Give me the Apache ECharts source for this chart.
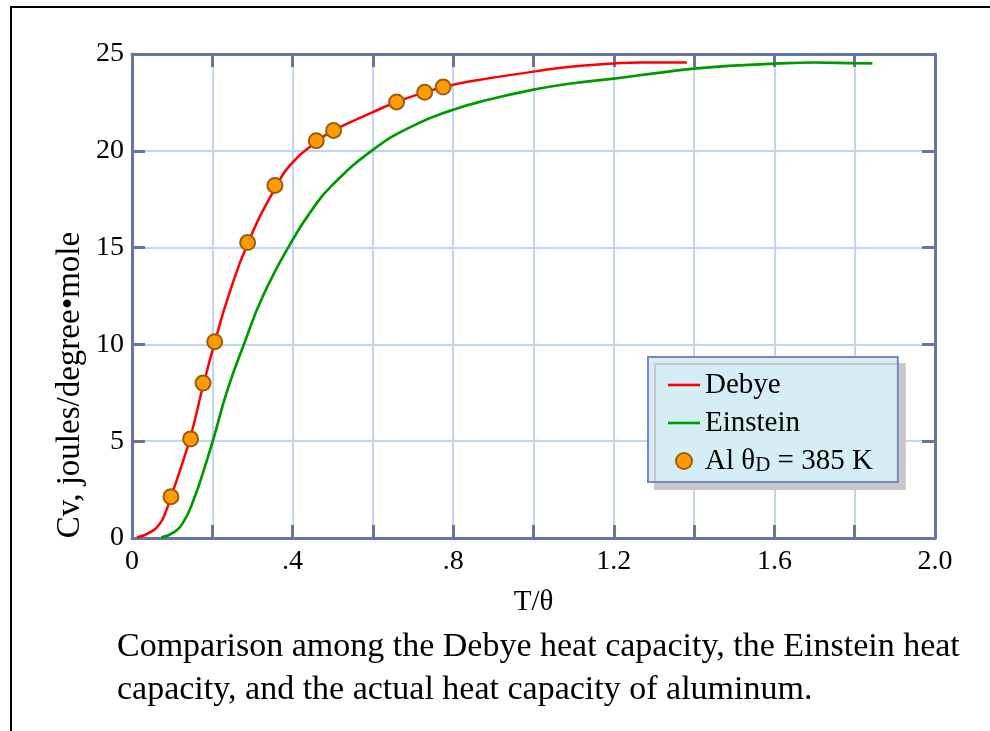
<!DOCTYPE html>
<html>
<head>
<meta charset="utf-8">
<script src="https://cdn.jsdelivr.net/npm/echarts@6/dist/echarts.min.js"></script>
<style>
html,body{margin:0;padding:0;background:#fff;}
#chart{width:990px;height:731px;}
</style>
</head>
<body>
<div id="chart"></div>
<script>
// ---- data ----
const debyeX = [0.012, 0.045, 0.070, 0.085, 0.097, 0.120, 0.146, 0.177, 0.206, 0.241, 0.288, 0.356, 0.400, 0.459, 0.502, 0.600, 0.659, 0.729, 0.775, 0.847, 1.000, 1.098, 1.200, 1.266, 1.382];
const debyeY = [0.03, 0.29, 0.76, 1.40, 2.13, 3.52, 5.25, 7.85, 10.10, 12.54, 15.20, 18.05, 19.40, 20.45, 21.05, 22.00, 22.52, 23.02, 23.29, 23.60, 24.09, 24.36, 24.51, 24.56, 24.56];

const einsteinX = [0.073, 0.104, 0.129, 0.154, 0.179, 0.204, 0.237, 0.278, 0.327, 0.400, 0.450, 0.495, 0.600, 0.701, 0.800, 0.887, 1.000, 1.098, 1.200, 1.306, 1.400, 1.498, 1.600, 1.698, 1.800, 1.844];
const einsteinY = [0.03, 0.29, 0.86, 2.00, 3.52, 5.21, 7.60, 9.96, 12.54, 15.40, 17.00, 18.15, 20.05, 21.30, 22.12, 22.64, 23.16, 23.49, 23.73, 24.01, 24.24, 24.40, 24.50, 24.56, 24.53, 24.52];

const alX = [0.097, 0.146, 0.177, 0.206, 0.288, 0.356, 0.459, 0.502, 0.659, 0.729, 0.775];
const alY = [2.13, 5.12, 8.00, 10.14, 15.26, 18.21, 20.52, 21.05, 22.52, 23.02, 23.29];

const seriesNames = ['Debye', 'Einstein', 'Al θD = 385 K'];
const xLabelValues = [0, 0.4, 0.8, 1.2, 1.6, 2.0];
const xLabelTexts = ['0', '.4', '.8', '1.2', '1.6', '2.0'];
const yLabelValues = [0, 5, 10, 15, 20, 25];
const yLabelTexts = ['0', '5', '10', '15', '20', '25'];
const xTitle = 'T/θ';
const yTitle = 'Cv, joules/degree•mole';
const caption = 'Comparison among the Debye heat capacity, the Einstein heat\ncapacity, and the actual heat capacity of aluminum.';

// ---- build ----
const zip = (xs, ys) => xs.map((x, i) => [x, ys[i]]);
const FONT = '"Liberation Serif", "Times New Roman", serif';
const AXIS = '#6576A0';
const GRID = '#C2D4F7';
const LINE_ICON = 'path://M0,0L32,0L32,2.6L0,2.6Z';

function lookup(vals, texts, v) {
  const i = vals.findIndex(t => Math.abs(t - v) < 1e-6);
  return i >= 0 ? texts[i] : '';
}

const baseX = {
  type: 'value', min: 0, max: 2, interval: 0.2,
  axisLine: {show: true, onZero: false, lineStyle: {color: AXIS, width: 3}},
  axisTick: {show: true, inside: true, length: 13, lineStyle: {color: AXIS, width: 3}}
};
const baseY = {
  type: 'value', min: 0, max: 25, interval: 5,
  axisLine: {show: true, onZero: false, lineStyle: {color: AXIS, width: 3}},
  axisTick: {show: true, inside: true, length: 13, lineStyle: {color: AXIS, width: 3}}
};

const chart = echarts.init(document.getElementById('chart'), null, {renderer: 'canvas'});
chart.setOption({
  animation: false,
  backgroundColor: '#fff',
  title: {
    text: caption, left: 117, top: 626, padding: 0,
    textStyle: {fontFamily: FONT, fontSize: 34, fontWeight: 'normal', color: '#000', lineHeight: 43}
  },
  grid: {left: 132, right: 55, top: 54, bottom: 193, containLabel: false},
  xAxis: [
    Object.assign({}, baseX, {
      position: 'bottom',
      name: xTitle, nameLocation: 'middle', nameGap: 50,
      nameTextStyle: {fontFamily: FONT, fontSize: 29, color: '#000'},
      axisLabel: {show: true, margin: 10, fontFamily: FONT, fontSize: 28, color: '#000',
        formatter: v => lookup(xLabelValues, xLabelTexts, v)},
      splitLine: {show: true, lineStyle: {color: GRID, width: 2}}
    }),
    Object.assign({}, baseX, {
      position: 'top', axisLabel: {show: false}, splitLine: {show: false}
    })
  ],
  yAxis: [
    Object.assign({}, baseY, {
      position: 'left',
      axisLabel: {show: true, margin: 8, fontFamily: FONT, fontSize: 28, color: '#000',
        formatter: v => lookup(yLabelValues, yLabelTexts, v)},
      splitLine: {show: true, lineStyle: {color: GRID, width: 2}}
    }),
    Object.assign({}, baseY, {
      position: 'right', axisLabel: {show: false}, splitLine: {show: false}
    })
  ],
  legend: {
    orient: 'vertical', left: 648, top: 357,
    padding: [13, 25, 6, 20], itemGap: 8, itemWidth: 32, itemHeight: 16, itemTextGap: 21,
    backgroundColor: '#D5EEF6', borderColor: '#7889C2', borderWidth: 2, borderRadius: 0,
    shadowColor: '#C8C8C8', shadowOffsetX: 7, shadowOffsetY: 7, shadowBlur: 0,
    data: [
      {name: seriesNames[0], icon: LINE_ICON},
      {name: seriesNames[1], icon: LINE_ICON},
      {name: seriesNames[2], icon: 'circle'}
    ],
    formatter: name => name === seriesNames[2] ? 'Al θ{sub|D} = 385 K' : name,
    textStyle: {
      fontFamily: FONT, fontSize: 29, color: '#000', lineHeight: 30,
      rich: {sub: {fontFamily: FONT, fontSize: 21, color: '#000', verticalAlign: 'bottom', lineHeight: 18}}
    }
  },
  graphic: [
    {type: 'rect', silent: true, z: 100, shape: {x: 11, y: 7, width: 1200, height: 900},
      style: {fill: 'none', stroke: '#000', lineWidth: 2}},
    {type: 'text', silent: true, x: 70, y: 385, rotation: Math.PI / 2,
      style: {text: yTitle, font: '33px ' + FONT, fill: '#000', textAlign: 'center', textVerticalAlign: 'middle'}}
  ],
  series: [
    {name: seriesNames[1], type: 'line', data: zip(einsteinX, einsteinY), smooth: 0.5,
      symbol: 'none', showSymbol: false, lineStyle: {color: '#009900', width: 2.7}, itemStyle: {color: '#009900'}, z: 2},
    {name: seriesNames[0], type: 'line', data: zip(debyeX, debyeY), smooth: 0.5,
      symbol: 'none', showSymbol: false, lineStyle: {color: '#FF0000', width: 2.5}, itemStyle: {color: '#FF0000'}, z: 3},
    {name: seriesNames[2], type: 'scatter', data: zip(alX, alY), symbol: 'circle', symbolSize: 15,
      itemStyle: {color: '#FF9A00', borderColor: '#9A5E10', borderWidth: 2, opacity: 1}, z: 4}
  ]
});
</script>
</body>
</html>
